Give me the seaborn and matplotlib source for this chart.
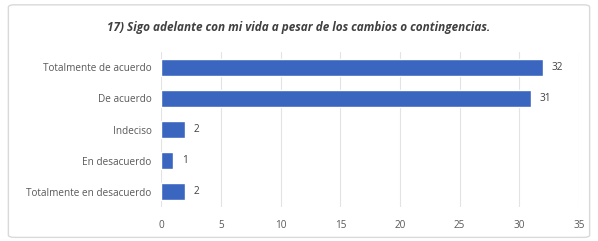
import pandas as pd
import matplotlib.pyplot as plt
import seaborn as sns
from matplotlib.patches import FancyBboxPatch

# data
categorias = ["Totalmente de acuerdo", "De acuerdo", "Indeciso",
              "En desacuerdo", "Totalmente en desacuerdo"]
valores = [32, 31, 2, 1, 2]
titulo = "17) Sigo adelante con mi vida a pesar de los cambios o contingencias."

df = pd.DataFrame({"categoria": categorias, "valor": valores})

sns.set_style("white")
plt.rcParams["font.family"] = ["Open Sans", "DejaVu Sans"]

fig = plt.figure(figsize=(5.98, 2.41), dpi=100)
fig.patches.append(FancyBboxPatch((0.014, 0.015), 0.972, 0.965,
                                  boxstyle="round,pad=0,rounding_size=0.01",
                                  transform=fig.transFigure, facecolor="white",
                                  edgecolor="#d9d9d9", linewidth=1, zorder=-5))
ax = fig.add_axes([0.27, 0.14, 0.698, 0.645])

sns.barplot(data=df, x="valor", y="categoria", color="#3A66C0",
            width=0.55, saturation=1, ax=ax, zorder=3)

ax.set_xlim(0, 35)
ax.set_xticks(range(0, 36, 5))
ax.grid(axis="x", color="#e3e3e3", linewidth=0.8, zorder=0)
ax.set_axisbelow(True)
ax.set_xlabel("")
ax.set_ylabel("")
for s in ax.spines.values():
    s.set_visible(False)
ax.tick_params(axis="both", length=0, labelsize=7.2, labelcolor="#595959")
ax.tick_params(axis="x", pad=9)
ax.tick_params(axis="y", pad=7)
ax.set_facecolor("none")

for cont in ax.containers:
    ax.bar_label(cont, padding=6, fontsize=7.2, color="#404040")

fig.text(0.5, 0.885, titulo, ha="center", va="center", fontsize=8.5,
         fontweight="bold", fontstyle="italic", color="#404040")

fig.savefig("out.png", dpi=100)
